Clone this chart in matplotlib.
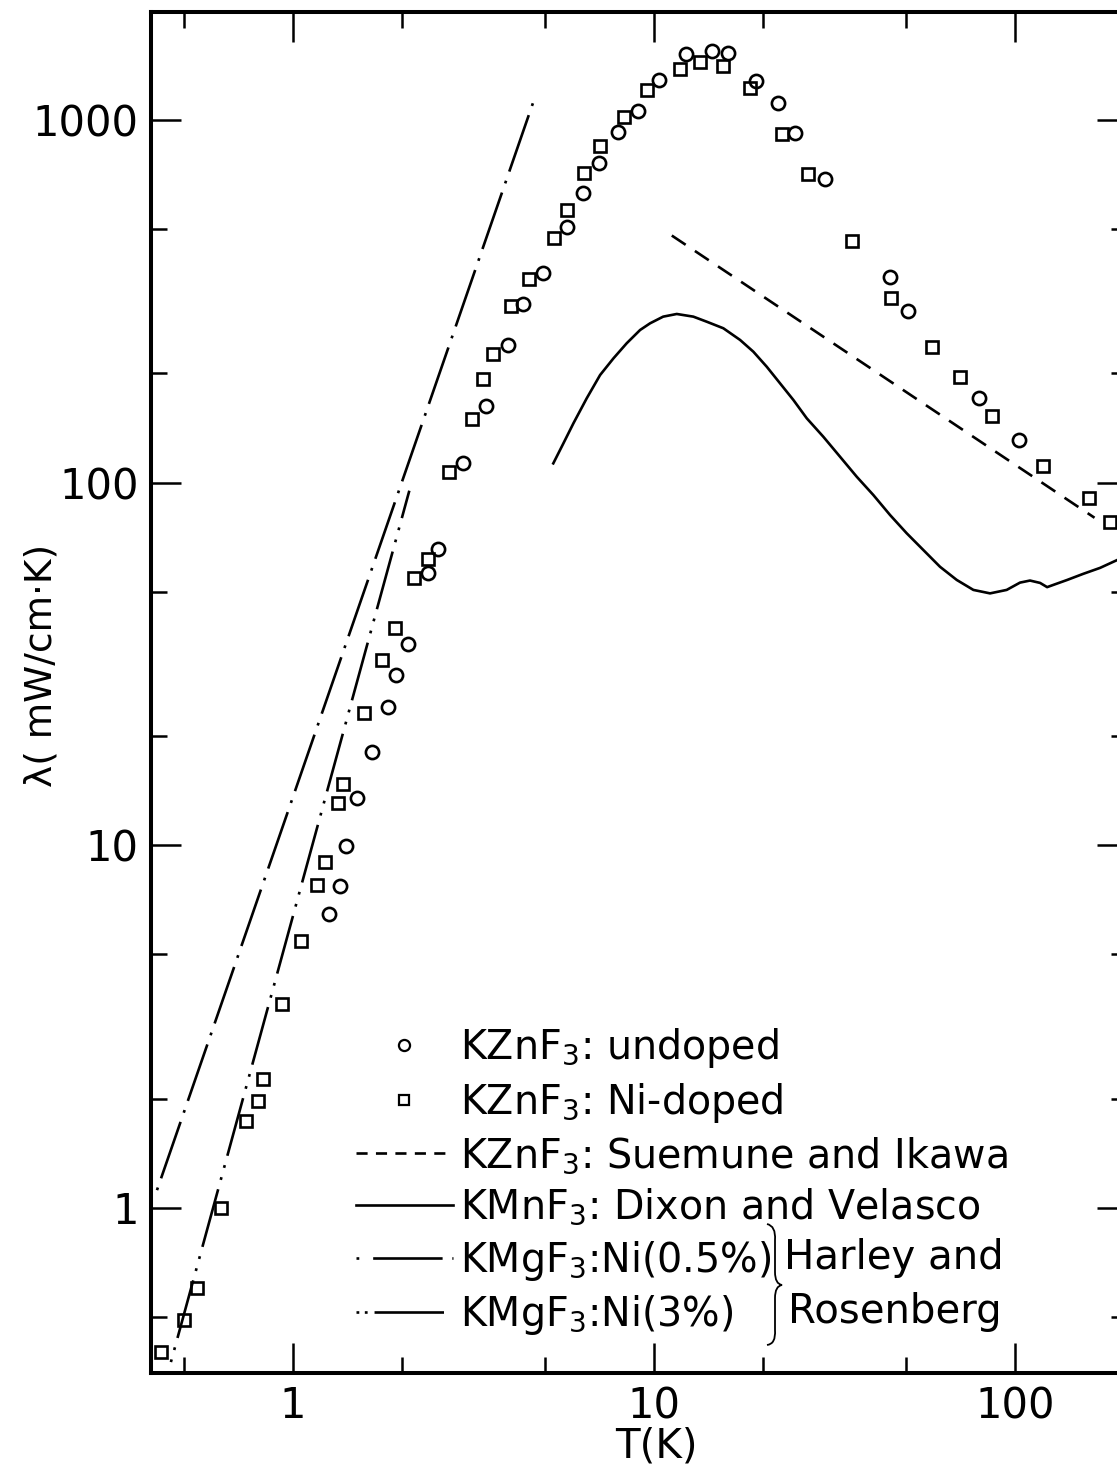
import numpy as np
import matplotlib
matplotlib.use("Agg")
import matplotlib.pyplot as plt
from matplotlib.ticker import LogLocator, FixedLocator, FixedFormatter, NullFormatter
from matplotlib.lines import Line2D
from matplotlib.path import Path
from matplotlib.patches import PathPatch

plt.rcParams['font.family'] = ['DejaVu Sans']
plt.rcParams['lines.scale_dashes'] = False
plt.rcParams['mathtext.default'] = 'regular'

# ---------------- data ----------------
undoped_T = [1.258, 1.349, 1.402, 1.504, 1.655, 1.833, 1.929, 2.083, 2.366, 2.522,
             2.96, 3.42, 3.94, 4.34, 4.92, 5.74, 6.36, 7.04, 7.94, 9.03,
             10.3, 12.3, 14.5, 16.0, 19.2, 22.1, 24.6, 29.8, 45.1, 50.5,
             79.4, 102.6]
undoped_k = [6.47, 7.72, 9.96, 13.5, 18.1, 24.0, 29.5, 35.9, 56.3, 65.6,
             113, 163, 240, 311, 378, 507, 629, 761, 926, 1058,
             1289, 1520, 1549, 1529, 1280, 1113, 920, 687, 369, 297,
             171, 131]

nidoped_T = [0.431, 0.499, 0.542, 0.632, 0.741, 0.800, 0.826, 0.932, 1.05, 1.166,
             1.226, 1.332, 1.375, 1.573, 1.764, 1.917, 2.163, 2.366, 2.70, 3.13,
             3.36, 3.58, 4.02, 4.51, 5.28, 5.74, 6.40, 7.08, 8.26, 9.56,
             11.8, 13.4, 15.5, 18.5, 22.6, 26.7, 35.4, 45.4, 58.9, 70.4,
             86.3, 119.6, 160, 183]
nidoped_k = [0.401, 0.491, 0.602, 1.00, 1.74, 1.97, 2.27, 3.65, 5.45, 7.77,
             8.99, 13.1, 14.8, 23.2, 32.4, 39.7, 54.6, 61.6, 107, 150,
             193, 226, 307, 364, 472, 565, 714, 848, 1019, 1209,
             1381, 1444, 1408, 1225, 914, 709, 464, 323, 237, 196,
             153, 111, 90.7, 77.9]

suemune_T = [11.2, 166]
suemune_k = [480, 80]

dixon_T = [5.26, 5.61, 5.98, 6.51, 7.09, 7.72, 8.40, 9.15, 9.75, 10.6,
           11.56, 12.85, 14.0, 15.56, 17.31, 18.84, 20.52, 22.34, 24.32, 26.49,
           29.44, 32.74, 36.43, 40.51, 45.06, 50.1, 55.7, 61.97, 68.95, 76.65,
           85.25, 94.8, 103.2, 110.0, 117.3, 122.7, 127.4, 139.4, 154.2, 172,
           192, 204]
dixon_k = [113.0, 128.3, 145.7, 170.8, 198.0, 220.1, 242.2, 263.5, 274.9, 286.8,
           291.7, 286.8, 277.7, 266.4, 247.4, 229.6, 208.7, 187.8, 169.0, 150.4,
           133.8, 117.9, 103.8, 92.4, 81.4, 72.5, 65.2, 58.6, 53.9, 50.6,
           49.5, 50.6, 53.0, 53.7, 52.9, 51.5, 52.2, 53.9, 56.0, 58.2,
           61.2, 63.0]

harley05_T = [0.42, 4.62]
harley05_k = [1.12, 1113]

harley3_T = [0.459, 2.10]
harley3_k = [0.376, 95]

x_ticks = [1, 10, 100]
x_ticklabels = ['1', '10', '100']
y_ticks = [1, 10, 100, 1000]
y_ticklabels = ['1', '10', '100', '1000']

labels = [r'KZnF$_3$: undoped', r'KZnF$_3$: Ni-doped',
          r'KZnF$_3$: Suemune and Ikawa', r'KMnF$_3$: Dixon and Velasco',
          r'KMgF$_3$:Ni(0.5%)', r'KMgF$_3$:Ni(3%)']

# ---------------- figure ----------------
W, H = 1117, 1466
fig = plt.figure(figsize=(W / 100, H / 100), dpi=100)
ax = fig.add_axes([151 / W, 1 - 1373 / H, 976 / W, 1361 / H])
ax.set_xscale('log')
ax.set_yscale('log')
ax.set_xlim(0.4043, 204.2)
ax.set_ylim(0.3508, 1984)

lw = 1.9
ls_dash = (0, (12, 8))
ls_05 = (0, (2, 7, 43, 7))
ls_3 = (0, (2, 7, 2, 7, 43, 7))

ax.plot(suemune_T, suemune_k, color='k', lw=lw, ls=ls_dash)
ax.plot(dixon_T, dixon_k, color='k', lw=lw, ls='-', solid_joinstyle='round')
ax.plot(harley05_T, harley05_k, color='k', lw=lw, ls=ls_05)
ax.plot(harley3_T, harley3_k, color='k', lw=lw, ls=ls_3)
ax.plot(undoped_T, undoped_k, ls='none', marker='o', ms=9.5, mfc='none',
        mec='k', mew=1.9)
ax.plot(nidoped_T, nidoped_k, ls='none', marker='s', ms=9, mfc='none',
        mec='k', mew=1.9)

# ticks
for sp in ax.spines.values():
    sp.set_linewidth(2.9)
ax.xaxis.set_major_locator(FixedLocator(x_ticks))
ax.xaxis.set_major_formatter(FixedFormatter(x_ticklabels))
ax.yaxis.set_major_locator(FixedLocator(y_ticks))
ax.yaxis.set_major_formatter(FixedFormatter(y_ticklabels))
ax.xaxis.set_minor_locator(LogLocator(base=10, subs=(2, 5)))
ax.yaxis.set_minor_locator(LogLocator(base=10, subs=(2, 5)))
ax.xaxis.set_minor_formatter(NullFormatter())
ax.yaxis.set_minor_formatter(NullFormatter())
ax.tick_params(which='both', direction='in', top=True, right=True, width=1.8)
ax.tick_params(which='major', length=21.5, labelsize=30)
ax.tick_params(which='minor', length=11.5)
ax.tick_params(axis='x', which='major', pad=9)
ax.tick_params(axis='y', which='major', pad=9)

ax.set_xlabel('T(K)', fontsize=29)
ax.set_ylabel('λ( mW/cm·K)', fontsize=27)
ax.xaxis.set_label_coords(0.518, -0.0395)
ax.yaxis.set_label_coords(-0.094, 0.52)

# legend
h_u = Line2D([], [], ls='none', marker='o', ms=8, mfc='none', mec='k', mew=1.6)
h_n = Line2D([], [], ls='none', marker='s', ms=7.5, mfc='none', mec='k', mew=1.6)
h_s = Line2D([], [], color='k', lw=lw, ls=(0, (8, 6)))
h_d = Line2D([], [], color='k', lw=lw, ls='-')
h_05 = Line2D([], [], color='k', lw=lw, ls=(0, (2, 10, 50, 7)))
h_3 = Line2D([], [], color='k', lw=lw, ls=(0, (2, 4, 2, 5, 50, 7)))
leg = fig.legend([h_u, h_n, h_s, h_d, h_05, h_3], labels,
                 loc='upper left', bbox_to_anchor=(356 / W, 1 - 1026 / H),
                 frameon=False, fontsize=28.5, handlelength=2.45,
                 handletextpad=0.18, labelspacing=0.27, borderpad=0,
                 borderaxespad=0)

fig.text(784 / W, 1 - 1258 / H, 'Harley and', fontsize=29, va='center', ha='left')
fig.text(788 / W, 1 - 1312 / H, 'Rosenberg', fontsize=29, va='center', ha='left')

# brace
def px(x, y):
    return (x / W, 1 - y / H)

bx = 775
verts = [px(bx - 8, 1224), px(bx + 1, 1226), px(bx, 1240),
         px(bx, 1272),
         px(bx, 1284), px(bx + 7, 1285),
         px(bx, 1286), px(bx, 1298),
         px(bx, 1330),
         px(bx + 1, 1344), px(bx - 8, 1345)]
codes = [Path.MOVETO, Path.CURVE3, Path.CURVE3,
         Path.LINETO,
         Path.CURVE3, Path.CURVE3,
         Path.CURVE3, Path.CURVE3,
         Path.LINETO,
         Path.CURVE3, Path.CURVE3]
fig.add_artist(PathPatch(Path(verts, codes), transform=fig.transFigure,
                         fill=False, lw=1.3, ec='k'))

fig.savefig('out.png', dpi=100)
